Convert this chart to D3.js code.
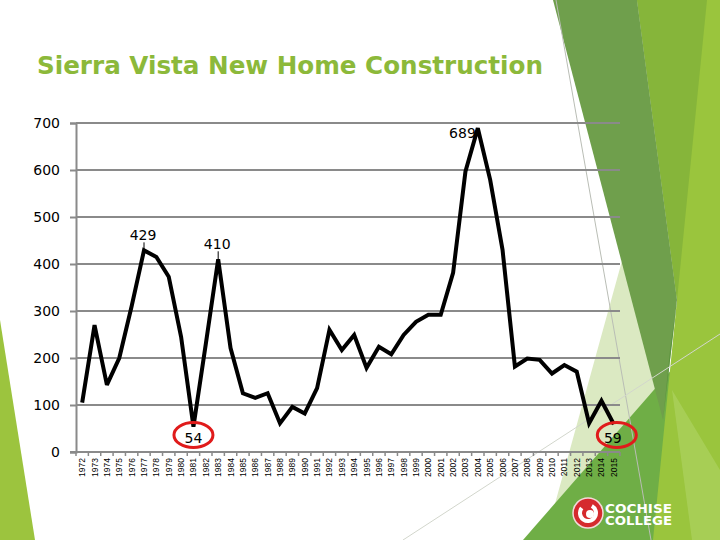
<!DOCTYPE html>
<html><head><meta charset="utf-8">
<script src="https://cdn.jsdelivr.net/npm/d3@7"></script>
<style>html,body{margin:0;padding:0;background:#fff;}svg{display:block;}</style>
</head><body>
<script>
const years = ["1972","1973","1974","1975","1976","1977","1978","1979","1980","1981","1982","1983","1984","1985","1986","1987","1988","1989","1990","1991","1992","1993","1994","1995","1996","1997","1998","1999","2000","2001","2002","2003","2004","2005","2006","2007","2008","2009","2010","2011","2012","2013","2014","2015"];
const homes = [105,270,143,200,310,429,415,373,245,54,230,410,221,125,115,125,61,96,82,136,260,217,249,179,224,208,249,277,292,292,381,597,689,579,430,182,199,196,167,185,171,61,109,59];
const yTicks = [0,100,200,300,400,500,600,700];
const labeled = [{year:"1977",value:429,pos:"above"},{year:"1983",value:410,pos:"above"},{year:"2004",value:689,pos:"left"},{year:"1981",value:54,pos:"circle"},{year:"2015",value:59,pos:"circle"}];
const title = "Sierra Vista New Home Construction";

const W=720,H=540;
const svg=d3.select("body").append("svg").attr("width",W).attr("height",H);

// decorative theme shapes
const deco = svg.append("g");
const poly=(pts,fill,op)=>deco.append("polygon").attr("points",pts.map(p=>p.join(",")).join(" ")).attr("fill",fill).attr("opacity",op||1);
poly([[0,320],[35,540],[0,540]],"#9cc43e");
poly([[545,540],[636,210],[663,420],[700,540]],"#dbe9c2");
poly([[523,540],[680,360],[668,540]],"#6fae46");
poly([[637,0],[720,0],[720,540],[653,540],[677,300]],"#9ac53d");
poly([[672,390],[720,470],[720,540],[692,540]],"#acd260",0.7);
poly([[637,0],[707,0],[677,300]],"#86b53a");
poly([[553,0],[637,0],[677,300],[663,420]],"#6f9f4c");
poly([[670,350],[677,300],[663,420]],"#5c943e");
deco.append("line").attr("x1",556).attr("y1",0).attr("x2",651).attr("y2",540).attr("stroke","#b9bdb5").attr("stroke-width",1);
deco.append("line").attr("x1",403).attr("y1",540).attr("x2",720).attr("y2",334).attr("stroke","#d2d6cc").attr("stroke-width",1);

// title
svg.append("text").attr("x",37).attr("y",74).text(title)
  .attr("font-family","DejaVu Sans").attr("font-weight","bold").attr("font-size",25)
  .attr("fill","#8cb93a").attr("textLength",506).attr("lengthAdjust","spacingAndGlyphs");

const x0=76,x1=620,yTop=123,yBot=452;
const band=d3.scaleBand().domain(years).range([x0,x1]);
const x=d3.scalePoint().domain(years).range([x0,x1]).padding(0.5);
const y=d3.scaleLinear().domain([0,700]).range([yBot,yTop]);

const chart=svg.append("g");
// gridlines
chart.selectAll(".grid").data(yTicks.filter(d=>d>0)).join("line")
  .attr("x1",x0).attr("x2",x1).attr("y1",d=>y(d)).attr("y2",d=>y(d))
  .attr("stroke","#8a8a8a").attr("stroke-width",2);

// y axis
const yAxis=chart.append("g").attr("transform",`translate(${x0},0)`)
  .call(d3.axisLeft(y).tickValues(yTicks).tickSize(6).tickPadding(10).tickFormat(d3.format("d")));
yAxis.select(".domain").attr("stroke","#8a8a8a").attr("stroke-width",2);
yAxis.selectAll(".tick line").attr("stroke","#8a8a8a").attr("stroke-width",2);
yAxis.selectAll("text").attr("font-family","DejaVu Sans").attr("font-size",14).attr("fill","#000");

// x axis
const xg=chart.append("g").attr("transform",`translate(0,${yBot})`);
xg.append("line").attr("x1",x0-6).attr("x2",x1).attr("stroke","#8a8a8a").attr("stroke-width",2);
xg.selectAll(".xt").data(years.concat(["end"])).join("line")
  .attr("x1",d=>d==="end"?x1:band(d)).attr("x2",d=>d==="end"?x1:band(d))
  .attr("y1",0).attr("y2",4).attr("stroke","#8a8a8a").attr("stroke-width",1.5);
xg.selectAll(".xl").data(years).join("text")
  .attr("transform",d=>`translate(${x(d)+3},6) rotate(-90)`)
  .attr("text-anchor","end").text(d=>d)
  .attr("font-family","Liberation Sans").attr("font-size",8.5).attr("fill","#000");

// line
const line=d3.line().x((d,i)=>x(years[i])).y(d=>y(d));
chart.append("path").datum(homes).attr("d",line).attr("fill","none")
  .attr("stroke","#000").attr("stroke-width",4).attr("stroke-linejoin","miter").attr("stroke-miterlimit",3);

// labels
labeled.forEach(l=>{
  const px=x(l.year), py=y(l.value);
  const t=chart.append("text").text(l.value).attr("font-family","DejaVu Sans").attr("font-size",14).attr("fill","#000");
  if(l.pos==="above"){
    t.attr("x",px-1).attr("y",py-10).attr("text-anchor","middle");
    chart.append("line").attr("x1",px).attr("x2",px).attr("y1",py-8).attr("y2",py).attr("stroke","#000").attr("stroke-width",1);
  } else if(l.pos==="left"){
    t.attr("x",px-2).attr("y",py+10).attr("text-anchor","end");
  } else {
    const cx=l.year==="1981"?px:px-1;
    t.attr("x",cx).attr("y",yBot-9).attr("text-anchor","middle");
    chart.append("ellipse").attr("cx",cx+(l.year==="2015"?4:0)).attr("cy",yBot-17).attr("rx",19.5).attr("ry",12.5)
      .attr("fill","none").attr("stroke","#e01b1b").attr("stroke-width",3);
  }
});

// logo
const logo=svg.append("g").attr("transform","translate(588,513)");
logo.append("circle").attr("r",15).attr("fill","#d52a2e").attr("stroke","#f3d9d9").attr("stroke-width",1.5);
logo.append("path").attr("d",d3.arc()({innerRadius:6,outerRadius:10,startAngle:0.5,endAngle:Math.PI*2-0.9}))
  .attr("fill","#fff");
logo.append("circle").attr("cx",2).attr("cy",1).attr("r",4).attr("fill","#fff");
logo.append("text").attr("x",17).attr("y",-0.5).text("COCHISE").attr("font-family","DejaVu Sans").attr("font-weight","bold")
  .attr("font-size",12).attr("fill","#fff").attr("textLength",67).attr("lengthAdjust","spacingAndGlyphs");
logo.append("text").attr("x",17).attr("y",12).text("COLLEGE").attr("font-family","DejaVu Sans").attr("font-weight","bold")
  .attr("font-size",12).attr("fill","#fff").attr("textLength",67).attr("lengthAdjust","spacingAndGlyphs");
</script>
</body></html>
